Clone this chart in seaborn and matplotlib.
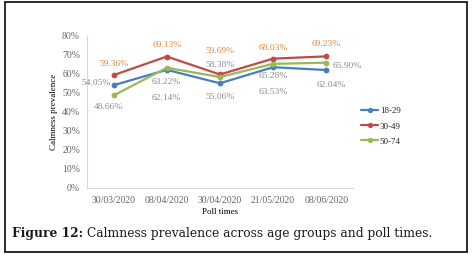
import pandas as pd
import seaborn as sns
import matplotlib.pyplot as plt
from matplotlib.patches import Rectangle

poll_times = ["30/03/2020", "08/04/2020", "30/04/2020", "21/05/2020", "08/06/2020"]
groups = ["18-29", "30-49", "50-74"]
age_18_29 = [54.05, 62.14, 55.06, 63.53, 62.04]
age_30_49 = [59.36, 69.13, 59.69, 68.03, 69.23]
age_50_74 = [48.66, 63.22, 58.38, 65.28, 65.90]

series = {"18-29": age_18_29, "30-49": age_30_49, "50-74": age_50_74}
df = pd.DataFrame([
    {"Poll times": t, "group": g, "value": v}
    for g in groups for t, v in zip(poll_times, series[g])
])

sns.set_style("white")
plt.rcParams["font.family"] = ["Liberation Serif", "DejaVu Serif"]

colors = {"18-29": "#4A7EBB", "30-49": "#BE4B48", "50-74": "#98B954"}

fig = plt.figure(figsize=(4.73, 2.60), dpi=100)
ax = fig.add_axes([0.184, 0.277, 0.562, 0.585])

sns.lineplot(data=df, x="Poll times", y="value", hue="group", palette=colors,
             marker="o", markersize=4.2, markeredgewidth=0, linewidth=1.6,
             sort=False, ax=ax)

ax.set_ylim(0, 80)
ax.set_xlim(-0.5, 4.5)
ax.set_yticks(range(0, 81, 10))
ax.set_yticklabels([f"{v}%" for v in range(0, 81, 10)])
ax.set_xticks(range(5))
ax.set_xticklabels(poll_times)
ax.set_xticks([i - 0.5 for i in range(6)], minor=True)
ax.tick_params(axis="x", which="major", length=0, pad=6, labelsize=7, labelcolor="#666666")
ax.tick_params(axis="x", which="minor", length=3, color="#D9D9D9", direction="out")
ax.tick_params(axis="y", length=3, color="#D9D9D9", labelsize=7, labelcolor="#666666", pad=2)
for s in ["top", "right"]:
    ax.spines[s].set_visible(False)
for s in ["left", "bottom"]:
    ax.spines[s].set_color("#D9D9D9")
    ax.spines[s].set_linewidth(0.8)
ax.set_xlabel("Poll times", fontsize=6.5, color="#000000", labelpad=2)
ax.set_ylabel("Calmness prevalence", fontsize=6.5, color="#000000", labelpad=3)

# data labels (offsets in pixels)
orange = "#E0883A"
gray = "#8C8C8C"
offsets_30 = [(0, 11, "center"), (0, 12, "center"), (0, 23, "center"),
              (0, 11, "center"), (0, 12, "center")]
offsets_18 = [(-3, 2, "right"), (0, -28, "center"), (0, -14, "center"),
              (0, -25, "center"), (5, -15, "center")]
offsets_50 = [(-5, -12, "center"), (0, -14, "center"), (0, 12, "center"),
              (0, -12, "center"), (6, -3, "left")]
for vals, offs, col in [(age_30_49, offsets_30, orange), (age_18_29, offsets_18, gray),
                        (age_50_74, offsets_50, gray)]:
    for i, v in enumerate(vals):
        dx, dy, ha = offs[i]
        ax.annotate(f"{v:.2f}%", (i, v), xytext=(dx, dy), textcoords="offset pixels",
                    ha=ha, va="center", fontsize=6.8, color=col)

ax.legend(loc="center left", bbox_to_anchor=(1.0, 0.405), frameon=False,
          fontsize=6.5, handlelength=1.9, handletextpad=0.2, labelspacing=0.75,
          markerscale=0.9)

# outer border
fig.patches.append(Rectangle((0.011, 0.031), 0.977, 0.962, transform=fig.transFigure,
                             fill=False, edgecolor="#1a1a1a", linewidth=1.3))

# caption
fig.canvas.draw()
t1 = fig.text(0.025, 0.102, "Figure 12:", fontsize=8.8, fontweight="bold",
              family="DejaVu Serif", color="#1a1a1a", va="center")
bb = t1.get_window_extent(fig.canvas.get_renderer())
fig.text(bb.x1 / fig.bbox.width + 0.008, 0.102,
         "Calmness prevalence across age groups and poll times.",
         fontsize=8.8, family="DejaVu Serif", color="#1a1a1a", va="center")

fig.savefig("out.png", dpi=100)
